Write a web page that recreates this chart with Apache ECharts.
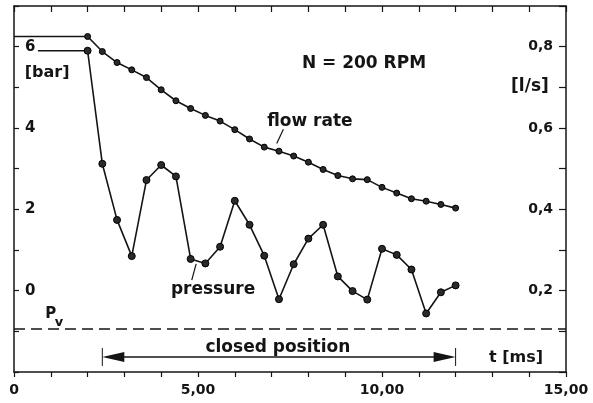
<!DOCTYPE html>
<html>
<head>
<meta charset="utf-8">
<script src="https://cdn.jsdelivr.net/npm/echarts@6/dist/echarts.min.js"></script>
<style>
  html, body { margin: 0; padding: 0; background: #fff; }
  #chart { width: 593px; height: 403px; }
</style>
</head>
<body>
<div id="chart"></div>
<script>
// sample times, ms (one reading every 0.4 ms)
const times = [2.0, 2.4, 2.8, 3.2, 3.6, 4.0, 4.4, 4.8, 5.2, 5.6, 6.0, 6.4, 6.8,
               7.2, 7.6, 8.0, 8.4, 8.8, 9.2, 9.6, 10.0, 10.4, 10.8, 11.2, 11.6, 12.0];
// flow rate, l/s (right axis)
const flowRate = [0.825, 0.788, 0.761, 0.743, 0.724, 0.694, 0.667, 0.648, 0.631, 0.617, 0.596, 0.573, 0.553,
                  0.543, 0.531, 0.516, 0.498, 0.483, 0.475, 0.473, 0.454, 0.440, 0.426, 0.420, 0.412, 0.403];
// pressure, bar (left axis)
const pressure = [5.90, 3.12, 1.74, 0.85, 2.72, 3.09, 2.81, 0.78, 0.67, 1.08, 2.21, 1.62, 0.86,
                  -0.21, 0.65, 1.28, 1.62, 0.35, -0.01, -0.22, 1.03, 0.88, 0.52, -0.56, -0.04, 0.13];
// steady values before the valve starts to move: [t, value]
const flowLead = [0, 0.825];
const pressureLead = [0.65, 5.90];
// vapour pressure level, bar
const pv = -0.93;
// closed position of the valve, ms
const closedFrom = 2.4;
const closedTo = 12.0;

// tick labels
const xLabels = { 0: '0', 5: '5,00', 10: '10,00', 15: '15,00' };
const barLabels = [0, 2, 4, 6];
const flowLabels = [0.2, 0.4, 0.6, 0.8];

const ink = '#141414';
const FONT = '"DejaVu Sans", sans-serif';

function leadPoint(p) {
  return { value: p, symbol: 'none' };
}

const axisLine = { show: true, onZero: false, lineStyle: { color: ink, width: 1.5 } };

const option = {
  backgroundColor: '#fff',
  animation: false,
  grid: { left: 14, right: 27, top: 6, bottom: 31 },
  xAxis: [
    {
      type: 'value', position: 'bottom', min: 0, max: 15, interval: 1,
      axisLine: axisLine,
      axisTick: { show: true, inside: false, length: 5, lineStyle: { color: ink, width: 1.2 } },
      axisLabel: {
        margin: 11, color: ink, fontFamily: FONT, fontWeight: 'bold', fontSize: 14,
        formatter: v => xLabels[v] || ''
      },
      splitLine: { show: false }
    },
    {
      type: 'value', position: 'top', min: 0, max: 15, interval: 1,
      axisLine: axisLine,
      axisTick: { show: true, inside: true, length: 6, lineStyle: { color: ink, width: 1.2 } },
      axisLabel: { show: false },
      splitLine: { show: false }
    }
  ],
  yAxis: [
    {
      type: 'value', position: 'left', min: -2, max: 7, interval: 1,
      axisLine: axisLine,
      axisTick: { show: true, inside: true, length: 5, lineStyle: { color: ink, width: 1.2 } },
      axisLabel: {
        inside: true, margin: 11, color: ink, fontFamily: FONT, fontWeight: 'bold', fontSize: 15,
        formatter: v => barLabels.includes(v) ? String(v) : ''
      },
      splitLine: { show: false }
    },
    {
      type: 'value', position: 'right', min: 0, max: 0.9, interval: 0.1,
      axisLine: axisLine,
      axisTick: { show: true, inside: true, length: 7, lineStyle: { color: ink, width: 1.2 } },
      axisLabel: {
        inside: true, margin: 13, color: ink, fontFamily: FONT, fontWeight: 'bold', fontSize: 14,
        formatter: v => {
          const r = Math.round(v * 10) / 10;
          return flowLabels.includes(r) ? r.toFixed(1).replace('.', ',') : '';
        }
      },
      splitLine: { show: false }
    }
  ],
  series: [
    {
      name: 'flow rate',
      type: 'line',
      yAxisIndex: 1,
      data: [leadPoint(flowLead)].concat(times.map((t, i) => [t, flowRate[i]])),
      symbol: 'circle',
      symbolSize: 6,
      showAllSymbol: true,
      lineStyle: { color: ink, width: 1.6 },
      itemStyle: { color: '#2a2a2a', borderColor: '#000', borderWidth: 1 },
      z: 3
    },
    {
      name: 'pressure',
      type: 'line',
      yAxisIndex: 0,
      data: [leadPoint(pressureLead)].concat(times.map((t, i) => [t, pressure[i]])),
      symbol: 'circle',
      symbolSize: 7,
      showAllSymbol: true,
      lineStyle: { color: ink, width: 1.6 },
      itemStyle: { color: '#2a2a2a', borderColor: '#000', borderWidth: 1 },
      markLine: {
        silent: true,
        symbol: ['none', 'none'],
        label: { show: false },
        lineStyle: { color: ink, width: 1.5, type: [11, 6] },
        data: [{ yAxis: pv }]
      },
      z: 3
    }
  ]
};

const chart = echarts.init(document.getElementById('chart'));
chart.setOption(option);

// annotations, placed in data units of the pressure axes
const toPx = (t, p) => chart.convertToPixel({ seriesIndex: 1 }, [t, p]);

const notes = [
  { text: 'N = 200 RPM', at: [9.51, 5.59], size: 17 },
  { text: 'flow rate', at: [8.04, 4.15], size: 17 },
  { text: 'pressure', at: [5.41, 0.02], size: 17 },
  { text: '[bar]', at: [0.90, 5.35], size: 16 },
  { text: '[l/s]', at: [14.02, 5.03], size: 17 },
  { text: 'P', at: [1.0, -0.57], size: 15 },
  { text: 'v', at: [1.22, -0.78], size: 13 },
  { text: 'closed position', at: [7.17, -1.39], size: 17 },
  { text: 't [ms]', at: [13.64, -1.65], size: 16 }
];
const leaders = [
  [[7.32, 3.97], [7.14, 3.62]],
  [[4.95, 0.66], [4.83, 0.26]]
];

const graphics = [];
notes.forEach(n => {
  const [x, y] = toPx(n.at[0], n.at[1]);
  graphics.push({
    type: 'text', x: x, y: y, silent: true,
    style: {
      text: n.text, fill: ink, align: 'center', verticalAlign: 'middle',
      font: 'bold ' + n.size + 'px ' + FONT
    }
  });
});
leaders.forEach(seg => {
  const a = toPx(seg[0][0], seg[0][1]);
  const b = toPx(seg[1][0], seg[1][1]);
  graphics.push({
    type: 'line', silent: true,
    shape: { x1: a[0], y1: a[1], x2: b[0], y2: b[1] },
    style: { stroke: ink, lineWidth: 1.2 }
  });
});

// double arrow for the closed position
const arrowY = -1.63;
const [ax1, ay] = toPx(closedFrom, arrowY);
const [ax2] = toPx(closedTo, arrowY);
const headL = 22, headH = 5, endH = 9;
graphics.push(
  { type: 'line', silent: true, shape: { x1: ax1 + headL - 2, y1: ay, x2: ax2 - headL + 2, y2: ay },
    style: { stroke: ink, lineWidth: 1.6 } },
  { type: 'polygon', silent: true,
    shape: { points: [[ax1, ay], [ax1 + headL, ay - headH], [ax1 + headL, ay + headH]] },
    style: { fill: ink } },
  { type: 'polygon', silent: true,
    shape: { points: [[ax2, ay], [ax2 - headL, ay - headH], [ax2 - headL, ay + headH]] },
    style: { fill: ink } },
  { type: 'line', silent: true, shape: { x1: ax1, y1: ay - endH, x2: ax1, y2: ay + endH },
    style: { stroke: ink, lineWidth: 1 } },
  { type: 'line', silent: true, shape: { x1: ax2, y1: ay - endH, x2: ax2, y2: ay + endH },
    style: { stroke: ink, lineWidth: 1 } }
);

chart.setOption({ graphic: graphics });
</script>
</body>
</html>
